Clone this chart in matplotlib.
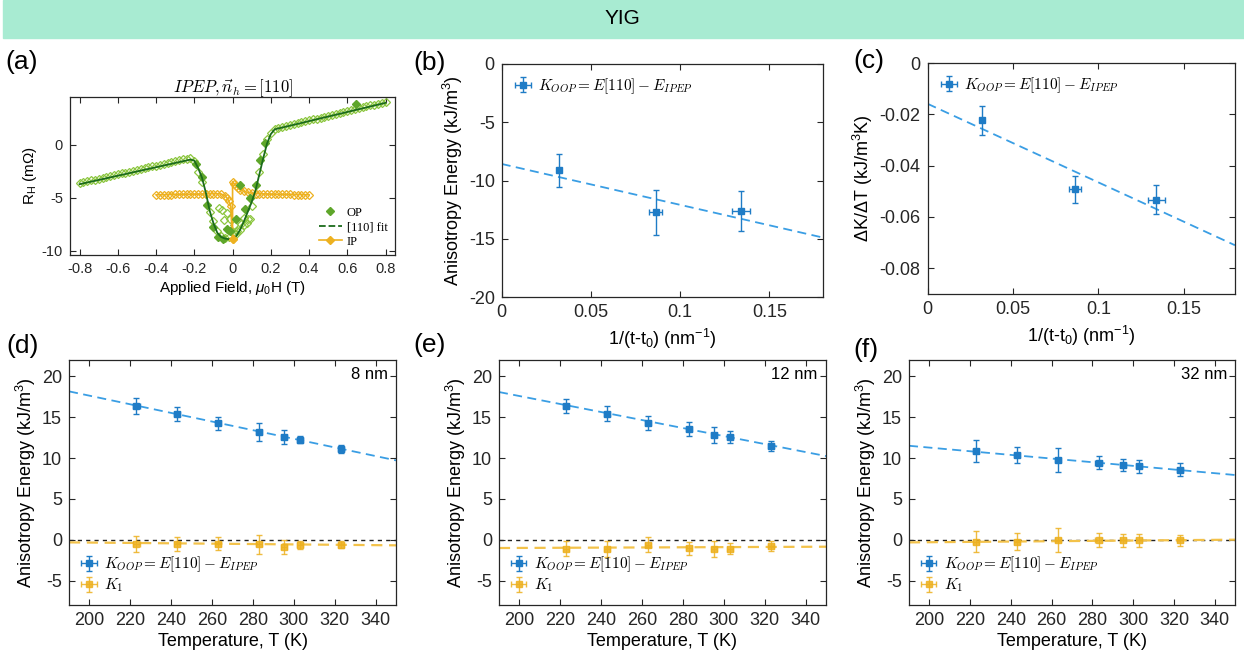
import matplotlib
matplotlib.use("Agg")
import matplotlib.pyplot as plt
from matplotlib.lines import Line2D
from matplotlib.patches import Rectangle
from matplotlib.font_manager import FontProperties
from matplotlib.ticker import FuncFormatter

plt.rcParams['font.family'] = ['Liberation Sans', 'DejaVu Sans']
plt.rcParams['axes.unicode_minus'] = False
plt.rcParams['mathtext.fontset'] = 'custom'
plt.rcParams['mathtext.rm'] = 'Liberation Sans'
plt.rcParams['mathtext.it'] = 'Liberation Sans:italic'
plt.rcParams['mathtext.bf'] = 'Liberation Sans:bold'

BLUE = '#1f7cc6'
BLUE_FIT = '#3a9ee4'
ORANGE = '#EDB120'
ORANGE_FIT = '#f3c24a'
GREEN_OPEN = '#8cc63f'
GREEN_FILL = '#5ea62a'
GREEN_FIT = '#1b6b1b'
FRAME = '#262626'

# ---- (a) Hall resistance vs field ----
op_field = [-0.80, -0.78, -0.76, -0.74, -0.72, -0.70, -0.68, -0.66, -0.64, -0.62,
            -0.60, -0.58, -0.56, -0.54, -0.52, -0.50, -0.48, -0.46, -0.44, -0.42,
            -0.40, -0.38, -0.36, -0.34, -0.32, -0.30, -0.28, -0.26, -0.24, -0.22,
            -0.20, -0.18, -0.16, -0.14, -0.12, -0.10, -0.08, -0.06, -0.04, -0.02,
            0.00, 0.02, 0.04, 0.06, 0.08, 0.10, 0.12, 0.14, 0.16, 0.18,
            0.20, 0.22, 0.24, 0.26, 0.28, 0.30, 0.32, 0.34, 0.36, 0.38,
            0.40, 0.42, 0.44, 0.46, 0.48, 0.50, 0.52, 0.54, 0.56, 0.58,
            0.60, 0.62, 0.64, 0.66, 0.68, 0.70, 0.72, 0.74, 0.76, 0.78, 0.80]
op_open = [-3.62, -3.54, -3.46, -3.37, -3.29, -3.21, -3.13, -3.04, -2.96, -2.88,
           -2.79, -2.71, -2.63, -2.55, -2.46, -2.38, -2.30, -2.21, -2.13, -2.05,
           -1.97, -1.88, -1.80, -1.72, -1.63, -1.55, -1.47, -1.39, -1.30, -1.25,
           -1.55, -2.60, -3.50, -4.60, -6.30, -7.20, -8.10, -8.60, -8.80, -8.70,
           -8.20, -8.40, -8.00, -7.60, -7.00, -5.80, -4.60, -2.60, -0.90, 0.50,
           1.15, 1.50, 1.60, 1.68, 1.77, 1.86, 1.95, 2.03, 2.12, 2.21,
           2.30, 2.38, 2.47, 2.56, 2.65, 2.73, 2.82, 2.91, 3.00, 3.08,
           3.17, 3.26, 3.35, 3.43, 3.52, 3.61, 3.70, 3.78, 3.87, 3.96, 4.05]
op_scatter_field = [-0.07, -0.055, -0.045, -0.03, -0.015, 0.01, 0.025, 0.045, 0.06, 0.075, 0.09]
op_scatter = [-6.0, -6.2, -7.1, -6.4, -7.0, -7.6, -8.1, -7.5, -6.9, -7.4, -7.0]
op_fill_field = [-0.19, -0.16, -0.135, -0.10, -0.074, -0.05, -0.03, -0.013, 0.02,
                 0.039, 0.065, 0.09, 0.12, 0.143, 0.17, 0.647]
op_fill = [-1.8, -3.0, -5.7, -7.8, -8.7, -8.9, -7.9, -8.1, -7.0,
           -3.8, -6.1, -5.0, -3.8, -1.4, 0.2, 3.85]
fit_field = [-0.80, -0.22, -0.20, -0.18, -0.16, -0.14, -0.12, -0.10, -0.08, -0.06,
             -0.04, -0.02, 0.00, 0.02, 0.04, 0.06, 0.08, 0.10, 0.12, 0.14,
             0.16, 0.18, 0.20, 0.22, 0.80]
fit_r = [-3.72, -1.40, -1.50, -2.20, -3.10, -4.50, -6.20, -7.40, -8.30, -8.70,
         -8.85, -8.90, -8.85, -8.60, -8.00, -7.20, -6.30, -5.40, -4.30, -2.80,
         -1.30, 0.10, 1.00, 1.45, 3.95]
ip_field = [-0.40, -0.38, -0.36, -0.34, -0.32, -0.30, -0.28, -0.26, -0.24, -0.22,
            -0.20, -0.18, -0.16, -0.14, -0.12, -0.10, -0.08, -0.06, -0.04, -0.03,
            -0.02, -0.01, 0.00, 0.00, 0.01, 0.02, 0.03, 0.04, 0.06, 0.08,
            0.10, 0.12, 0.14, 0.16, 0.18, 0.20, 0.22, 0.24, 0.26, 0.28,
            0.30, 0.32, 0.34, 0.36, 0.38, 0.40]
ip_r = [-4.72, -4.71, -4.71, -4.70, -4.70, -4.69, -4.69, -4.68, -4.68, -4.67,
        -4.66, -4.66, -4.65, -4.64, -4.63, -4.62, -4.62, -4.65, -4.80, -5.00,
        -5.30, -5.80, -8.90, -3.50, -3.70, -3.90, -4.10, -4.25, -4.40, -4.50,
        -4.56, -4.60, -4.62, -4.64, -4.65, -4.66, -4.67, -4.68, -4.68, -4.69,
        -4.69, -4.70, -4.70, -4.71, -4.71, -4.72]

# ---- (b), (c) thickness dependence ----
inv_t = [0.0319, 0.0863, 0.1340]
inv_t_err = [0.0008, 0.0037, 0.0049]
k_oop_b = [-9.13, -12.72, -12.60]
k_oop_b_err = [1.40, 1.94, 1.72]
fit_b_x = [0.0, 0.18]
fit_b_y = [-8.58, -14.90]
dkdt_c = [-0.0224, -0.0492, -0.0532]
dkdt_c_err = [0.0055, 0.0052, 0.0055]
fit_c_x = [0.0, 0.18]
fit_c_y = [-0.0159, -0.0710]

# ---- (d)-(f) temperature dependence ----
temps = [223, 243, 263, 283, 295, 303, 323]
temp_err = [1.5, 1.5, 1.5, 1.5, 1.5, 1.5, 1.5]
fit_t = [190, 350]
thick_labels = ['8 nm', '12 nm', '32 nm']
k_oop = [[16.40, 15.43, 14.24, 13.22, 12.57, 12.24, 11.14],
         [16.40, 15.43, 14.33, 13.55, 12.82, 12.60, 11.47],
         [10.86, 10.40, 9.76, 9.43, 9.14, 8.98, 8.57]]
k_oop_err = [[1.00, 0.84, 0.84, 1.10, 0.88, 0.43, 0.47],
             [0.88, 0.90, 0.84, 0.80, 0.96, 0.75, 0.67],
             [1.29, 1.00, 1.50, 0.82, 0.70, 0.76, 0.78]]
k1 = [[-0.53, -0.49, -0.49, -0.57, -0.86, -0.60, -0.60],
      [-1.10, -1.10, -0.61, -1.06, -1.10, -1.10, -0.78],
      [-0.24, -0.24, -0.08, -0.04, -0.08, -0.08, -0.08]]
k1_err = [[1.00, 0.86, 0.82, 1.20, 0.86, 0.50, 0.45],
          [0.92, 0.96, 0.90, 0.80, 1.00, 0.70, 0.60],
          [1.29, 1.04, 1.47, 0.84, 0.78, 0.80, 0.67]]
fit_oop = [[18.16, 9.71], [18.08, 10.24], [11.50, 7.92]]
fit_k1 = [[-0.33, -0.69], [-1.02, -0.86], [-0.33, 0.00]]

KOOP_LABEL = r'$K_{OOP} = E[110] - E_{IPEP}$'
leg_font = FontProperties(size=11, math_fontfamily='cm')
gfmt = FuncFormatter(lambda v, p: '%g' % round(v, 6))


def style_axes(ax, size):
    for s in ax.spines.values():
        s.set_color(FRAME)
        s.set_linewidth(0.9)
    ax.tick_params(direction='in', top=True, right=True, length=4,
                   width=0.8, colors=FRAME, labelsize=size, pad=5)


fig = plt.figure(figsize=(12.44, 6.59), dpi=100)

# header bar
fig.patches.append(Rectangle((3 / 1244, 1 - 38 / 659), 1, 38 / 659,
                             transform=fig.transFigure, color='#a8ebd2', zorder=0))
fig.text(0.5, 1 - 19 / 659, 'YIG', ha='center', va='center', fontsize=15)

# ---- panel (a) ----
ax = fig.add_axes([0.0563, 0.613, 0.2613, 0.2398])
ax.plot(op_field, op_open, 'D', ms=4.5, mfc='none', mec=GREEN_OPEN, mew=0.9)
ax.plot(op_scatter_field, op_scatter, 'D', ms=4.5, mfc='none', mec=GREEN_OPEN, mew=0.9)
ax.plot(ip_field, ip_r, '-D', color=ORANGE, lw=1.2, ms=4.5, mfc='none', mec=ORANGE, mew=0.9)
ax.plot(op_fill_field, op_fill, 'D', ms=4.2, color=GREEN_FILL)
ax.plot(fit_field, fit_r, '-', color=GREEN_FIT, lw=1.3)
ax.plot([0], [-8.9], 'D', ms=4.5, color=ORANGE)
ax.set_xlim(-0.85, 0.85)
ax.set_ylim(-10.4, 4.5)
ax.set_xticks([-0.8, -0.6, -0.4, -0.2, 0, 0.2, 0.4, 0.6, 0.8])
ax.set_yticks([-10, -5, 0])
ax.xaxis.set_major_formatter(gfmt)
ax.yaxis.set_major_formatter(gfmt)
style_axes(ax, 10.5)
ax.set_xlabel(r'Applied Field, $\mu_0$H (T)', fontsize=11, labelpad=2)
ax.set_ylabel(r'R$_\mathrm{H}$ (m$\Omega$)', fontsize=11, labelpad=2)
ax.set_title(r'$IPEP, \vec{n}_h = [110]$', fontsize=12, pad=3, math_fontfamily='cm')
handles = [Line2D([], [], ls='none', marker='D', ms=4.5, color=GREEN_FILL),
           Line2D([], [], ls='--', color=GREEN_FIT, lw=1.3),
           Line2D([], [], ls='-', marker='D', ms=4.5, color=ORANGE, lw=1.2)]
ax.legend(handles, ['OP', '[110] fit', 'IP'], loc='lower right', frameon=False,
          prop={'family': 'Liberation Serif', 'size': 9}, handlelength=1.8,
          labelspacing=0.2, borderaxespad=0.2, handletextpad=0.4)
fig.text(0.004, 0.906, '(a)', fontsize=19, va='center')

# ---- panels (b) and (c) ----
pos_bc = [[0.4033, 0.5493, 0.2583, 0.3536], [0.7457, 0.5539, 0.2470, 0.3505]]
ys = [k_oop_b, dkdt_c]
yerrs = [k_oop_b_err, dkdt_c_err]
fits = [(fit_b_x, fit_b_y), (fit_c_x, fit_c_y)]
ylims = [(-20, 0), (-0.09, 0)]
yticks = [[-20, -15, -10, -5, 0], [-0.08, -0.06, -0.04, -0.02, 0]]
ylabels = [r'Anisotropy Energy (kJ/m$^3$)', r'$\Delta$K/$\Delta$T (kJ/m$^3$K)']
plabels = [('(b)', 0.332, 0.904), ('(c)', 0.686, 0.907)]
for i in range(2):
    ax = fig.add_axes(pos_bc[i])
    ax.plot(fits[i][0], fits[i][1], '--', color=BLUE_FIT, lw=1.3, dashes=(5, 3))
    ax.errorbar(inv_t, ys[i], yerr=yerrs[i], xerr=inv_t_err, fmt='s', ms=4,
                color=BLUE, elinewidth=1, capsize=2.5, label=KOOP_LABEL)
    ax.set_xlim(0, 0.18)
    ax.set_ylim(*ylims[i])
    ax.set_xticks([0, 0.05, 0.1, 0.15])
    ax.set_yticks(yticks[i])
    ax.xaxis.set_major_formatter(gfmt)
    ax.yaxis.set_major_formatter(gfmt)
    style_axes(ax, 13)
    ax.set_xlabel(r'1/(t-t$_0$) (nm$^{-1}$)', fontsize=13, labelpad=4)
    ax.set_ylabel(ylabels[i], fontsize=13, labelpad=3)
    ax.legend(loc='upper left', frameon=False, prop=leg_font, handlelength=1.2,
              handletextpad=0.4, borderaxespad=0.4)
    fig.text(plabels[i][1], plabels[i][2], plabels[i][0], fontsize=19, va='center')

# ---- panels (d)-(f) ----
pos_def = [[0.0555, 0.0819, 0.2629, 0.3718], [0.4011, 0.0819, 0.2629, 0.3718],
           [0.7307, 0.0819, 0.2621, 0.3718]]
plabels = [('(d)', 0.005, 0.475), ('(e)', 0.332, 0.476), ('(f)', 0.686, 0.469)]
for i in range(3):
    ax = fig.add_axes(pos_def[i])
    ax.axhline(0, color='#222222', ls='--', lw=1.0, dashes=(3, 3))
    ax.plot(fit_t, fit_oop[i], '--', color=BLUE_FIT, lw=1.3, dashes=(5, 3))
    ax.plot(fit_t, fit_k1[i], '--', color=ORANGE_FIT, lw=1.6, dashes=(5, 3))
    ax.errorbar(temps, k_oop[i], yerr=k_oop_err[i], xerr=temp_err, fmt='s', ms=4,
                color=BLUE, elinewidth=1, capsize=2.5, label=KOOP_LABEL)
    ax.errorbar(temps, k1[i], yerr=k1_err[i], xerr=temp_err, fmt='s', ms=4,
                color=ORANGE, elinewidth=1, capsize=2.5, alpha=0.85, label=r'$K_1$')
    ax.set_xlim(190, 350)
    ax.set_ylim(-8, 22)
    ax.set_xticks([200, 220, 240, 260, 280, 300, 320, 340])
    ax.set_yticks([-5, 0, 5, 10, 15, 20])
    ax.yaxis.set_major_formatter(gfmt)
    style_axes(ax, 13)
    ax.set_xlabel('Temperature, T (K)', fontsize=13, labelpad=3)
    ax.set_ylabel(r'Anisotropy Energy (kJ/m$^3$)', fontsize=13, labelpad=3)
    ax.text(0.975, 0.94, thick_labels[i], transform=ax.transAxes, ha='right',
            va='center', fontsize=12)
    ax.legend(loc='lower left', frameon=False, prop=leg_font, handlelength=1.2,
              handletextpad=0.4, labelspacing=0.15, borderaxespad=0.3)
    fig.text(plabels[i][1], plabels[i][2], plabels[i][0], fontsize=19, va='center')

fig.savefig('out.png', dpi=100)
